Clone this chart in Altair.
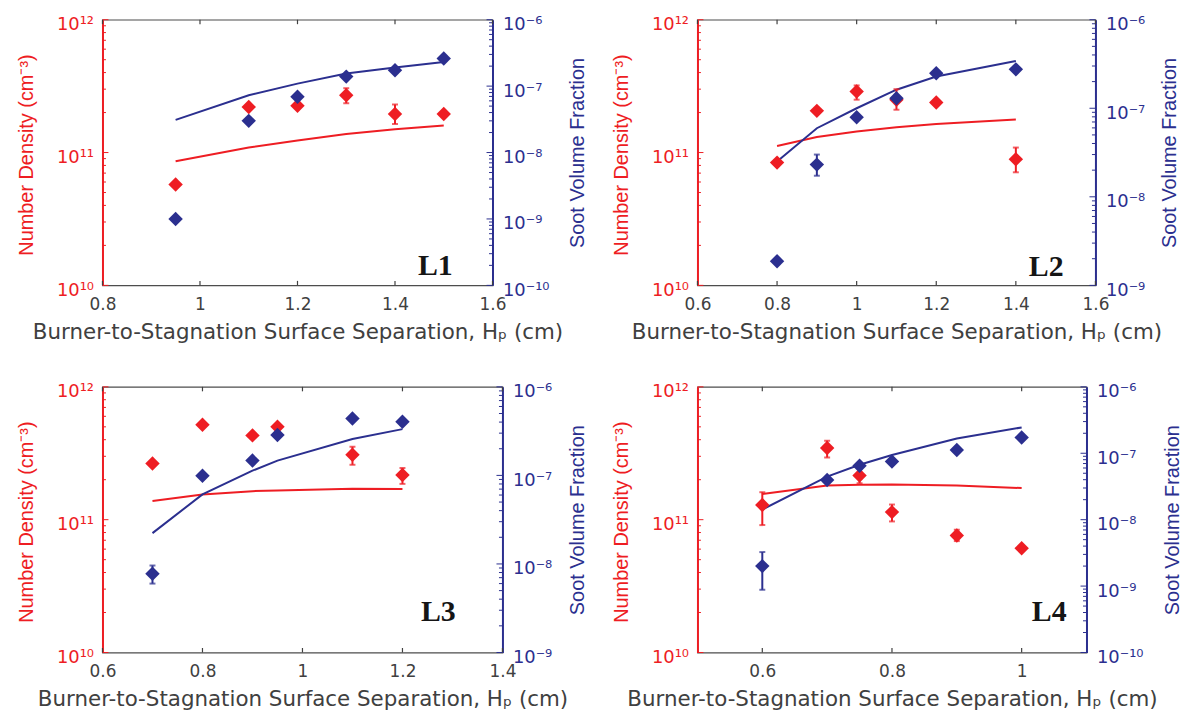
import altair as alt
import pandas as pd

RED = "#EE1D23"
BLUE = "#2B2F8F"
GRAY = "#404040"
SANS_H = "DejaVu Sans"
SANS_V = "Liberation Sans"

# ---------------- L1 ----------------
L1_X = [0.95, 1.1, 1.2, 1.3, 1.4, 1.5]
L1_ND = [5.75e10, 2.2e11, 2.25e11, 2.7e11, 1.95e11, 1.95e11]
L1_FV = [1.0e-9, 3.0e-8, 6.9e-8, 1.39e-7, 1.73e-7, 2.6e-7]
L1_MX = [0.95, 1.1, 1.2, 1.3, 1.4, 1.5]
L1_MND = [8.6e10, 1.09e11, 1.23e11, 1.38e11, 1.5e11, 1.6e11]
L1_MFV = [3.1e-8, 7.3e-8, 1.09e-7, 1.55e-7, 1.9e-7, 2.3e-7]
L1_ND_EX = [1.3, 1.4]
L1_ND_LO = [2.35e11, 1.64e11]
L1_ND_HI = [3.05e11, 2.3e11]
L1_FV_EX = []
L1_FV_LO = []
L1_FV_HI = []

# ---------------- L2 ----------------
L2_X = [0.8, 0.9, 1.0, 1.1, 1.2, 1.4]
L2_ND = [8.4e10, 2.06e11, 2.88e11, 2.5e11, 2.38e11, 8.9e10]
L2_FV = [1.87e-9, 2.31e-8, 7.9e-8, 1.3e-7, 2.48e-7, 2.75e-7]
L2_MX = [0.8, 0.9, 1.0, 1.1, 1.2, 1.4]
L2_MND = [1.12e11, 1.31e11, 1.44e11, 1.55e11, 1.64e11, 1.77e11]
L2_MFV = [2.5e-8, 5.95e-8, 1.0e-7, 1.62e-7, 2.28e-7, 3.41e-7]
L2_ND_EX = [1.0, 1.1, 1.4]
L2_ND_LO = [2.5e11, 2.1e11, 7.1e10]
L2_ND_HI = [3.2e11, 3.0e11, 1.09e11]
L2_FV_EX = [0.9]
L2_FV_LO = [1.73e-8]
L2_FV_HI = [3.0e-8]

# ---------------- L3 ----------------
L3_X = [0.7, 0.8, 0.9, 0.95, 1.1, 1.2]
L3_ND = [2.65e11, 5.19e11, 4.31e11, 5.0e11, 3.08e11, 2.17e11]
L3_FV = [7.76e-9, 9.9e-8, 1.47e-7, 2.86e-7, 4.4e-7, 4.04e-7]
L3_MX = [0.7, 0.8, 0.9, 0.95, 1.1, 1.2]
L3_MND = [1.38e11, 1.55e11, 1.64e11, 1.66e11, 1.71e11, 1.7e11]
L3_MFV = [2.23e-8, 6.1e-8, 1.13e-7, 1.47e-7, 2.58e-7, 3.33e-7]
L3_ND_EX = [1.1, 1.2]
L3_ND_LO = [2.59e11, 1.86e11]
L3_ND_HI = [3.54e11, 2.45e11]
L3_FV_EX = [0.7]
L3_FV_LO = [6.0e-9]
L3_FV_HI = [9.6e-9]

# ---------------- L4 ----------------
L4_X = [0.6, 0.7, 0.75, 0.8, 0.9, 1.0]
L4_ND = [1.29e11, 3.46e11, 2.15e11, 1.14e11, 7.6e10, 6.1e10]
L4_FV = [2.0e-9, 3.96e-8, 6.5e-8, 7.5e-8, 1.12e-7, 1.73e-7]
L4_MX = [0.6, 0.7, 0.75, 0.8, 0.9, 1.0]
L4_MND = [1.56e11, 1.81e11, 1.83e11, 1.84e11, 1.81e11, 1.73e11]
L4_MFV = [1.42e-8, 4.45e-8, 6.7e-8, 9.4e-8, 1.67e-7, 2.45e-7]
L4_ND_EX = [0.6, 0.7, 0.75, 0.8, 0.9]
L4_ND_LO = [9.1e10, 2.94e11, 1.88e11, 9.7e10, 6.9e10]
L4_ND_HI = [1.61e11, 3.93e11, 2.48e11, 1.30e11, 8.4e10]
L4_FV_EX = [0.6]
L4_FV_LO = [8.8e-10]
L4_FV_HI = [3.25e-9]

# axis ranges / tick labels
ND_EXPS = [10, 11, 12]
L1_FV_EXPS = [-10, -9, -8, -7, -6]
L2_FV_EXPS = [-9, -8, -7, -6]
L3_FV_EXPS = [-9, -8, -7, -6]
L4_FV_EXPS = [-10, -9, -8, -7, -6]
L1_XDOM, L1_XTICKS = [0.8, 1.6], [0.8, 1.0, 1.2, 1.4, 1.6]
L2_XDOM, L2_XTICKS = [0.6, 1.6], [0.6, 0.8, 1.0, 1.2, 1.4, 1.6]
L3_XDOM, L3_XTICKS = [0.6, 1.4], [0.6, 0.8, 1.0, 1.2, 1.4]
L4_XDOM, L4_XTICKS = [0.5, 1.1], [0.6, 0.8, 1.0]

X_TITLE = "Burner-to-Stagnation Surface Separation, H\u209a (cm)"
ND_TITLE = "Number Density (cm\u207b\u00b3)"
FV_TITLE = "Soot Volume Fraction"

SUP = str.maketrans("-0123456789", "\u207b\u2070\u00b9\u00b2\u00b3\u2074\u2075\u2076\u2077\u2078\u2079")


def pow_expr(exps):
    expr = "''"
    for e in exps:
        expr = f"round(log(datum.value)/LN10)=={e} ? '10{str(e).translate(SUP)}' : (" + expr + ")"
    return expr


def minor_vals(exps):
    return [m * 10.0 ** e for e in exps[:-1] for m in range(2, 10)]


def tick_layer(vals, scale, channel, color, start, end):
    df = pd.DataFrame({"t": vals})
    if channel == "y":
        return alt.Chart(df).mark_rule(color=color, strokeWidth=1).encode(
            y=alt.Y("t:Q", scale=scale, axis=None),
            x=alt.value(start), x2=alt.value(end))
    return alt.Chart(df).mark_rule(color=color, strokeWidth=1.2).encode(
        x=alt.X("t:Q", scale=scale, axis=None),
        y=alt.value(start), y2=alt.value(end))


def err_layers(ex, lo, hi, scale, xs, color):
    if not ex:
        return []
    df = pd.DataFrame({"x": ex, "lo": lo, "hi": hi})
    base = alt.Chart(df)
    xenc = alt.X("x:Q", scale=xs, axis=None)
    return [
        base.mark_rule(color=color, strokeWidth=2).encode(
            x=xenc, y=alt.Y("lo:Q", scale=scale, axis=None), y2="hi:Q"),
        base.mark_tick(color=color, thickness=2, size=6, orient="horizontal").encode(
            x=xenc, y=alt.Y("lo:Q", scale=scale, axis=None)),
        base.mark_tick(color=color, thickness=2, size=6, orient="horizontal").encode(
            x=xenc, y=alt.Y("hi:Q", scale=scale, axis=None)),
    ]


def panel(label, xdom, xticks, fv_exps, X, ND, FV, MX, MND, MFV,
          nd_err, fv_err, W, H, rt_x, lab_dx, lab_dy):
    xs = alt.Scale(domain=xdom, nice=False, zero=False)
    nds = alt.Scale(type="log", domain=[10.0 ** ND_EXPS[0], 10.0 ** ND_EXPS[-1]], nice=False)
    fvs = alt.Scale(type="log", domain=[10.0 ** fv_exps[0], 10.0 ** fv_exps[-1]], nice=False)
    exp_df = pd.DataFrame({"x": X, "nd": ND, "fv": FV})
    mod_df = pd.DataFrame({"x": MX, "nd": MND, "fv": MFV})
    noX = alt.X("x:Q", scale=xs, axis=None)

    xaxis = alt.Axis(values=xticks, format="~g", ticks=False, tickSize=0, domain=False,
                     grid=False, labelFlush=False, labelOverlap=False, orient="bottom",
                     labelColor=GRAY, labelFont=SANS_H, labelFontSize=17, labelPadding=11,
                     title=X_TITLE, titleColor=GRAY, titleFont=SANS_H, titleFontSize=21.5,
                     titleFontWeight="normal", titleX=W / 2, titleY=47.5,
                     titleAlign="center", titleBaseline="middle")
    nd_axis = alt.Axis(values=[10.0 ** e for e in ND_EXPS], labelExpr=pow_expr(ND_EXPS),
                       orient="left", ticks=False, tickSize=0, grid=False,
                       domainColor=RED, domainWidth=2, labelOverlap=False,
                       labelColor=RED, labelFont=SANS_H, labelFontSize=18, labelPadding=9,
                       labelOffset=5, labelBaseline="middle",
                       title=ND_TITLE, titleColor=RED, titleFont=SANS_V, titleFontSize=20,
                       titleFontWeight="normal", titleAngle=270, titleX=-76.5, titleY=H / 2 + 2,
                       titleAlign="center", titleBaseline="middle")
    fv_axis = alt.Axis(values=[10.0 ** e for e in fv_exps], labelExpr=pow_expr(fv_exps),
                       orient="right", ticks=False, tickSize=0, grid=False,
                       domainColor=BLUE, domainWidth=2, labelOverlap=False,
                       labelColor=BLUE, labelFont=SANS_H, labelFontSize=18, labelPadding=10,
                       labelOffset=5, labelBaseline="middle",
                       title=FV_TITLE, titleColor=BLUE, titleFont=SANS_V, titleFontSize=20,
                       titleFontWeight="normal", titleAngle=270, titleX=rt_x, titleY=H / 2,
                       titleAlign="center", titleBaseline="middle")

    layers = [
        alt.Chart(mod_df).mark_line(color=RED, strokeWidth=2).encode(
            x=alt.X("x:Q", scale=xs, axis=xaxis),
            y=alt.Y("nd:Q", scale=nds, axis=nd_axis)),
        alt.Chart(mod_df).mark_line(color=BLUE, strokeWidth=2).encode(
            x=noX, y=alt.Y("fv:Q", scale=fvs, axis=fv_axis)),
        tick_layer([10.0 ** e for e in ND_EXPS], nds, "y", RED, 0, 6),
        tick_layer(minor_vals(ND_EXPS), nds, "y", RED, 0, 3.5),
        tick_layer([10.0 ** e for e in fv_exps], fvs, "y", BLUE, W - 6, W),
        tick_layer(minor_vals(fv_exps), fvs, "y", BLUE, W - 3.5, W),
        tick_layer(xticks, xs, "x", GRAY, 0, 4.5),
        tick_layer(xticks, xs, "x", GRAY, H - 4.5, H),
    ]
    layers += err_layers(*nd_err, nds, xs, RED)
    layers.append(alt.Chart(exp_df).mark_point(shape="diamond", filled=True, size=210,
                                               opacity=1, color=RED, strokeWidth=0).encode(
        x=noX, y=alt.Y("nd:Q", scale=nds, axis=None)))
    layers += err_layers(*fv_err, fvs, xs, BLUE)
    layers.append(alt.Chart(exp_df).mark_point(shape="diamond", filled=True, size=210,
                                               opacity=1, color=BLUE, strokeWidth=0).encode(
        x=noX, y=alt.Y("fv:Q", scale=fvs, axis=None)))
    layers.append(alt.Chart(pd.DataFrame({"name": [label]})).mark_text(
        font="Liberation Serif", fontWeight="bold", fontSize=30, align="right",
        baseline="alphabetic", color="#151515").encode(
        text="name:N", x=alt.value(W - lab_dx), y=alt.value(H - lab_dy)))

    return alt.layer(*layers).resolve_scale(x="independent", y="independent").properties(
        width=W, height=H)


H = 267
p1 = panel("L1", L1_XDOM, L1_XTICKS, L1_FV_EXPS, L1_X, L1_ND, L1_FV, L1_MX, L1_MND, L1_MFV,
           (L1_ND_EX, L1_ND_LO, L1_ND_HI), (L1_FV_EX, L1_FV_LO, L1_FV_HI),
           392, H, 85, 40, 10)
p2 = panel("L2", L2_XDOM, L2_XTICKS, L2_FV_EXPS, L2_X, L2_ND, L2_FV, L2_MX, L2_MND, L2_MFV,
           (L2_ND_EX, L2_ND_LO, L2_ND_HI), (L2_FV_EX, L2_FV_LO, L2_FV_HI),
           400, H, 74, 32, 9)
p3 = panel("L3", L3_XDOM, L3_XTICKS, L3_FV_EXPS, L3_X, L3_ND, L3_FV, L3_MX, L3_MND, L3_MFV,
           (L3_ND_EX, L3_ND_LO, L3_ND_HI), (L3_FV_EX, L3_FV_LO, L3_FV_HI),
           402, H, 75.5, 47, 32)
p4 = panel("L4", L4_XDOM, L4_XTICKS, L4_FV_EXPS, L4_X, L4_ND, L4_FV, L4_MX, L4_MND, L4_MFV,
           (L4_ND_EX, L4_ND_LO, L4_ND_HI), (L4_FV_EX, L4_FV_LO, L4_FV_HI),
           391, H, 86, 20, 32)

row1 = alt.hconcat(p1, p2, spacing=22)
row2 = alt.hconcat(p3, p4, spacing=21)
chart = alt.vconcat(row1, row2, spacing=38).properties(
    padding={"left": 15, "top": 13, "right": 0, "bottom": 0}
).configure_view(stroke="#4D4D4D", strokeWidth=1.2)

chart.save("out.html", embed_options={"renderer": "svg", "actions": False})
